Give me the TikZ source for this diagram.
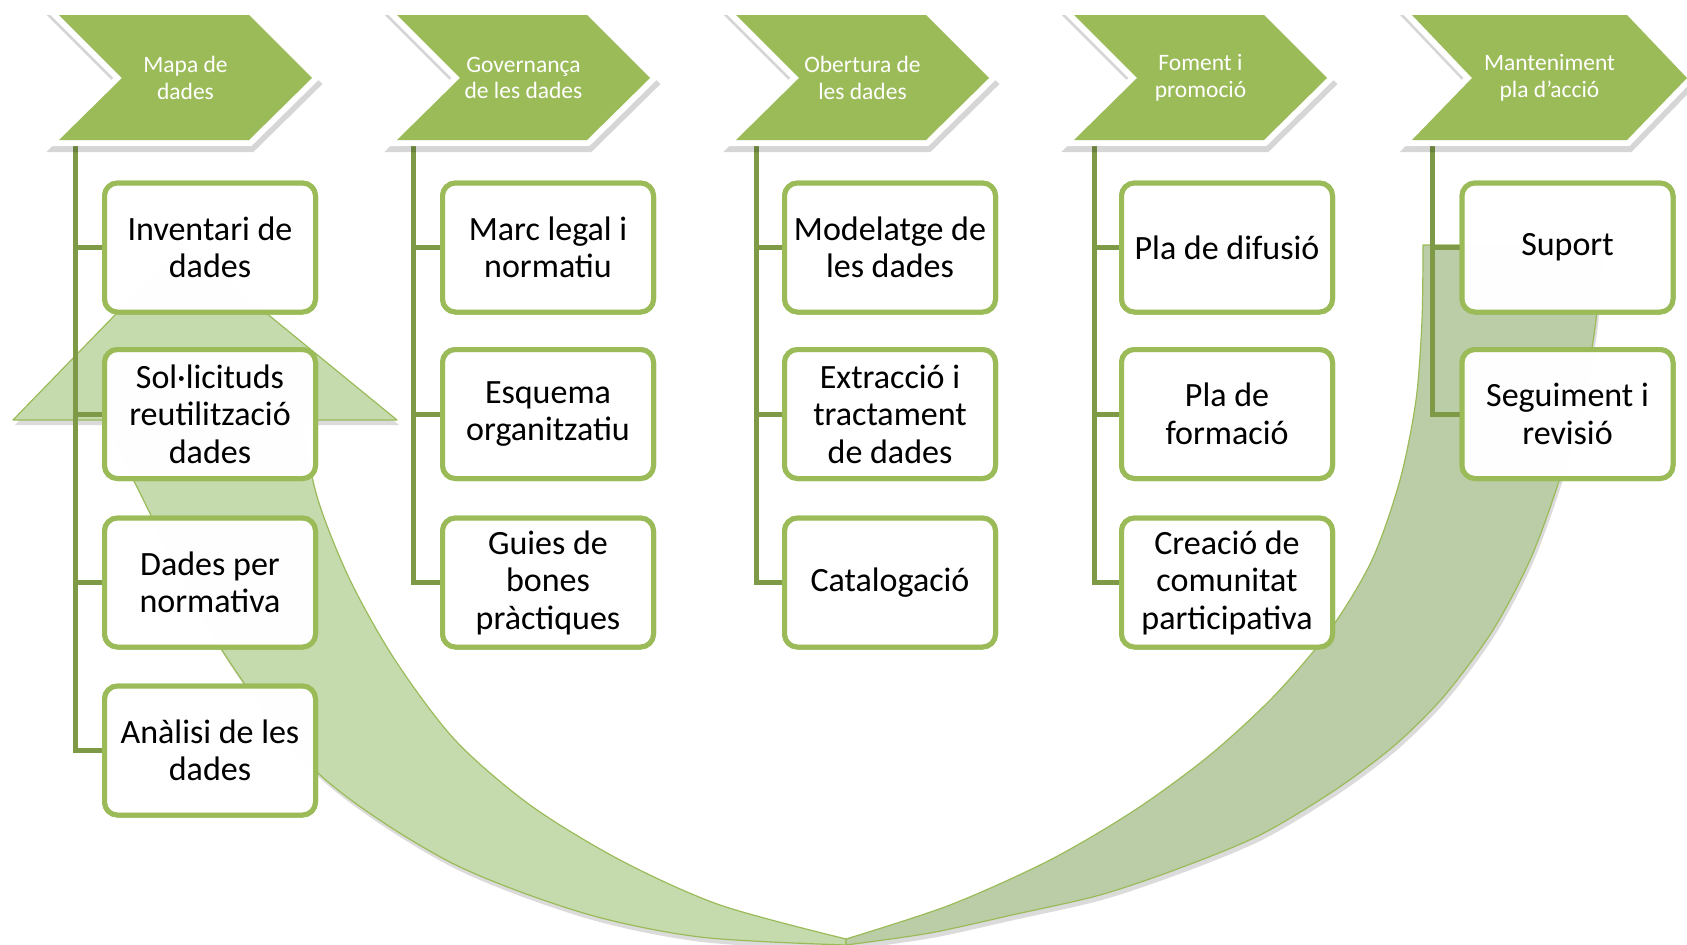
\documentclass[tikz,border=0pt]{standalone}
\usepackage{fontspec}
\setmainfont{Carlito}
\definecolor{chevgreen}{RGB}{155,187,89}
\definecolor{treegreen}{RGB}{126,154,70}
\definecolor{arrowlight}{RGB}{197,219,174}
\definecolor{arrowdark}{RGB}{187,205,166}
\tikzset{
  stepbox/.style={draw=chevgreen, line width=5pt, rounded corners=13pt, fill=white,
    fill opacity=0.9, text opacity=1, minimum width=211pt, minimum height=129pt,
    align=center, inner sep=0pt, font=\fontsize{34}{37.5}\selectfont},
  tree/.style={draw=treegreen, line width=5pt, line join=miter},
  chevtext/.style={text=white, align=center, inner sep=0pt, font=\fontsize{23.5}{26.5}\selectfont},
  band/.style={draw=chevgreen, line width=1.2pt, line join=round},
}
\newcommand{\leftband}{(13,420) -- (183,245) -- (397,420) -- (300,420)
  -- plot[smooth] coordinates {(300,420) (318,500) (350,580) (395,660) (455,740) (530,805) (620,860) (720,905) (846,939)}
  -- (846,945)
  -- plot[smooth] coordinates {(846,945) (700,937) (580,912) (446,860) (318,773) (220,647) (135,483) (105,420)}
  -- cycle}
\newcommand{\rightband}{(1423,245) -- (1600,245)
  -- plot[smooth] coordinates {(1600,245) (1596,320) (1582,400) (1558,484) (1530,560) (1493,630) (1445,695) (1395,745) (1335,790) (1260,835) (1180,868) (1100,895) (1012,915) (930,933) (846,945)}
  -- (846,939)
  -- plot[smooth] coordinates {(846,939) (950,905) (1050,860) (1135,810) (1210,755) (1275,695) (1330,630) (1372,560) (1400,480) (1416,400) (1422,320) (1423,245)}
  -- cycle}
\newcommand{\mychev}[5]{%
  \filldraw[black, opacity=0.16, line width=12pt, line join=miter, shift={(2,6)}]
    (#1,15) -- ({#1+#2-#3},15) -- ({#1+#2},78) -- ({#1+#2-#3},140) -- (#1,140) -- ({#1+#3},78) -- cycle;
  \filldraw[white, line width=12pt, line join=miter]
    (#1,15) -- ({#1+#2-#3},15) -- ({#1+#2},78) -- ({#1+#2-#3},140) -- (#1,140) -- ({#1+#3},78) -- cycle;
  \fill[chevgreen]
    (#1,15) -- ({#1+#2-#3},15) -- ({#1+#2},78) -- ({#1+#2-#3},140) -- (#1,140) -- ({#1+#3},78) -- cycle;
  \node[chevtext] (#4) at ({#1+#2/2},78) {#5};
}
\begin{document}
\begin{tikzpicture}[x=1pt, y=-1pt]
\useasboundingbox[fill=white] (0,0) rectangle (1687,945);

% big curved arrow
\fill[black, opacity=0.14, shift={(2,5)}] \leftband \rightband;
\filldraw[band, fill=arrowlight] \leftband;
\filldraw[band, fill=arrowdark] \rightband;

% tree line tops
\coordinate (t1) at (75,140);
\coordinate (t2) at (413,140);
\coordinate (t3) at (756,140);
\coordinate (t4) at (1094,140);
\coordinate (t5) at (1432,140);

% box positions
\path
  node[stepbox] (b11) at (210,247.5) {Inventari de\\dades}
  node[stepbox] (b12) at (210,414) {Sol·licituds\\reutilització\\dades}
  node[stepbox] (b13) at (210,582.5) {Dades per\\normativa}
  node[stepbox] (b14) at (210,750.5) {Anàlisi de les\\dades}
  node[stepbox] (b21) at (548,247.5) {Marc legal i\\normatiu}
  node[stepbox] (b22) at (548,414) {Esquema\\organitzatiu}
  node[stepbox] (b23) at (548,582.5) {Guies de\\bones\\pràctiques}
  node[stepbox] (b31) at (890,247.5) {Modelatge de\\les dades}
  node[stepbox] (b32) at (890,414) {Extracció i\\tractament\\de dades}
  node[stepbox] (b33) at (890,582.5) {Catalogació}
  node[stepbox] (b41) at (1227,247.5) {Pla de difusió}
  node[stepbox] (b42) at (1227,414) {Pla de\\formació}
  node[stepbox] (b43) at (1227,582.5) {Creació de\\comunitat\\participativa}
  node[stepbox] (b51) at (1567.5,247.5) {Suport}
  node[stepbox] (b52) at (1567.5,414) {Seguiment i\\revisió};

% tree connectors
\draw[tree] (t1) |- (b14.west);
\draw[tree] (t1 |- b11.west) -- (b11.west);
\draw[tree] (t1 |- b12.west) -- (b12.west);
\draw[tree] (t1 |- b13.west) -- (b13.west);
\draw[tree] (t2) |- (b23.west);
\draw[tree] (t2 |- b21.west) -- (b21.west);
\draw[tree] (t2 |- b22.west) -- (b22.west);
\draw[tree] (t3) |- (b33.west);
\draw[tree] (t3 |- b31.west) -- (b31.west);
\draw[tree] (t3 |- b32.west) -- (b32.west);
\draw[tree] (t4) |- (b43.west);
\draw[tree] (t4 |- b41.west) -- (b41.west);
\draw[tree] (t4 |- b42.west) -- (b42.west);
\draw[tree] (t5) |- (b52.west);
\draw[tree] (t5 |- b51.west) -- (b51.west);

% redraw boxes above the connectors
\path
  node[stepbox] at (b11) {Inventari de\\dades}
  node[stepbox] at (b12) {Sol·licituds\\reutilització\\dades}
  node[stepbox] at (b13) {Dades per\\normativa}
  node[stepbox] at (b14) {Anàlisi de les\\dades}
  node[stepbox] at (b21) {Marc legal i\\normatiu}
  node[stepbox] at (b22) {Esquema\\organitzatiu}
  node[stepbox] at (b23) {Guies de\\bones\\pràctiques}
  node[stepbox] at (b31) {Modelatge de\\les dades}
  node[stepbox] at (b32) {Extracció i\\tractament\\de dades}
  node[stepbox] at (b33) {Catalogació}
  node[stepbox] at (b41) {Pla de difusió}
  node[stepbox] at (b42) {Pla de\\formació}
  node[stepbox] at (b43) {Creació de\\comunitat\\participativa}
  node[stepbox] at (b51) {Suport}
  node[stepbox] at (b52) {Seguiment i\\revisió};

% chevrons
\mychev{59}{253}{63}{c1}{Mapa de\\dades}
\mychev{397}{253}{63}{c2}{Governança\\de les dades}
\mychev{736}{253}{63}{c3}{Obertura de\\les dades}
\mychev{1074}{253}{63}{c4}{Foment i\\promoció}
\mychev{1412}{275}{60}{c5}{Manteniment\\pla d’acció}
\end{tikzpicture}
\end{document}
